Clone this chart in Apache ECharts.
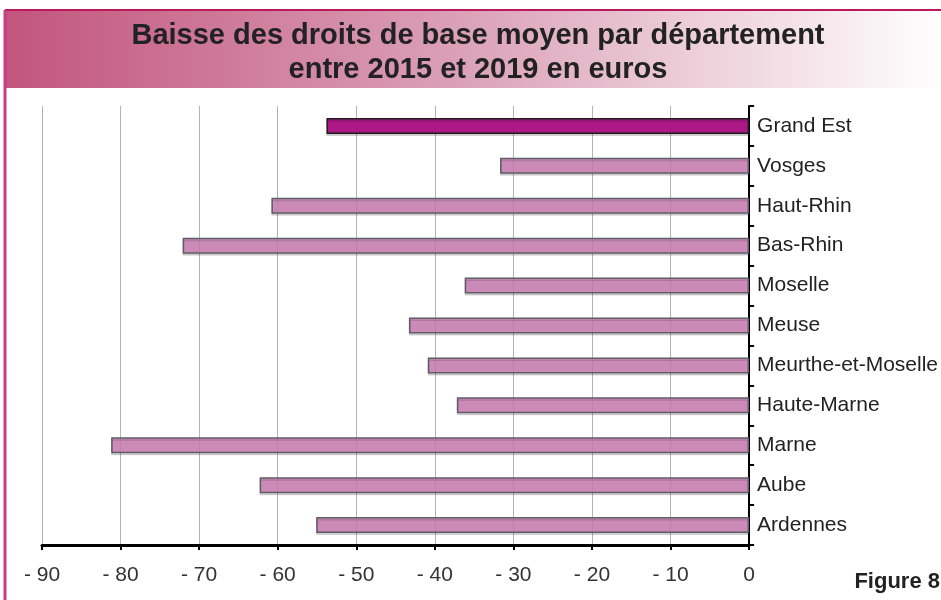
<!DOCTYPE html>
<html>
<head>
<meta charset="utf-8">
<script src="https://cdn.jsdelivr.net/npm/echarts@6/dist/echarts.min.js"></script>
<style>
  html, body { margin: 0; padding: 0; background: #fff; }
  #dv { width: 941px; height: 600px; }
</style>
</head>
<body>
<div id="dv"></div>
<script>
// departements, du haut vers le bas
var categories = ['Grand Est', 'Vosges', 'Haut-Rhin', 'Bas-Rhin', 'Moselle', 'Meuse',
    'Meurthe-et-Moselle', 'Haute-Marne', 'Marne', 'Aube', 'Ardennes']
var baisse = [-53.8, -31.7, -60.8, -72.1, -36.2, -43.3, -40.9, -37.2, -81.2, -62.3, -55.1]
var titleLines = ['Baisse des droits de base moyen par département', 'entre 2015 et 2019 en euros']
var figureLabel = 'Figure 8'

var chartDom = document.getElementById('dv')
var myChart = echarts.init(chartDom)
var option

var barData = baisse.map(function (v, i) {
    if (i === 0) {
        return { value: v, itemStyle: { color: 'rgba(170,14,130,0.95)', borderColor: '#1e1e1e' } }
    }
    return v
})

option = {
    animation: false,
    backgroundColor: '#fff',
    graphic: [
        {
            type: 'rect',
            z: 0,
            shape: { x: 5, y: 10, width: 940, height: 78 },
            style: {
                fill: new echarts.graphic.LinearGradient(0, 0, 1, 0, [
                    { offset: 0, color: '#c2557d' },
                    { offset: 0.5, color: '#dca4b8' },
                    { offset: 1, color: '#ffffff' }
                ])
            }
        },
        // cadre
        { type: 'line', z: 1, shape: { x1: 5, y1: 10, x2: 941, y2: 10 }, style: { stroke: '#b8195f', lineWidth: 2 } },
        { type: 'line', z: 1, shape: { x1: 5, y1: 10, x2: 5, y2: 600 }, style: { stroke: '#c93b82', lineWidth: 3 } },
        {
            type: 'text', z: 2, x: 478, y: 36,
            style: {
                text: titleLines[0],
                font: 'bold 29px "Liberation Sans", Arial, sans-serif',
                fill: '#222',
                align: 'center',
                verticalAlign: 'middle'
            }
        },
        {
            type: 'text', z: 2, x: 478, y: 70,
            style: {
                text: titleLines[1],
                font: 'bold 29px "Liberation Sans", Arial, sans-serif',
                fill: '#222',
                align: 'center',
                verticalAlign: 'middle'
            }
        },
        {
            type: 'text', z: 2, x: 940, y: 582,
            style: {
                text: figureLabel,
                font: 'bold 22px "Liberation Sans", Arial, sans-serif',
                fill: '#222',
                align: 'right',
                verticalAlign: 'middle'
            }
        }
    ],
    grid: {
        left: 42,
        right: 191,
        top: 106,
        bottom: 55
    },
    xAxis: {
        type: 'value',
        min: -90,
        max: 0,
        interval: 10,
        axisLine: { show: true, onZero: false, lineStyle: { color: '#000', width: 3 } },
        axisTick: { show: true, length: 5, lineStyle: { color: '#000', width: 2 } },
        splitLine: { show: true, lineStyle: { color: '#b4b4b4', width: 1 } },
        axisLabel: {
            margin: 20,
            color: '#333',
            fontSize: 21,
            fontFamily: '"Liberation Sans", Arial, sans-serif',
            formatter: function (v) { return v < 0 ? '- ' + Math.abs(v) : '0' }
        }
    },
    yAxis: {
        type: 'category',
        data: categories,
        inverse: true,
        position: 'right',
        axisLine: { show: true, lineStyle: { color: '#000', width: 2 } },
        axisTick: { show: true, length: 5, lineStyle: { color: '#000', width: 2 } },
        axisLabel: {
            margin: 8,
            color: '#222',
            fontSize: 21,
            fontFamily: '"Liberation Sans", Arial, sans-serif'
        }
    },
    series: [{
        type: 'bar',
        data: barData,
        barWidth: 16,
        itemStyle: {
            color: 'rgba(200,123,176,0.85)',
            borderColor: '#5e5e66',
            borderWidth: 1.5,
            shadowColor: 'rgba(0,0,0,0.15)',
            shadowOffsetY: 2
        }
    }]
}

option && myChart.setOption(option)
</script>
</body>
</html>
